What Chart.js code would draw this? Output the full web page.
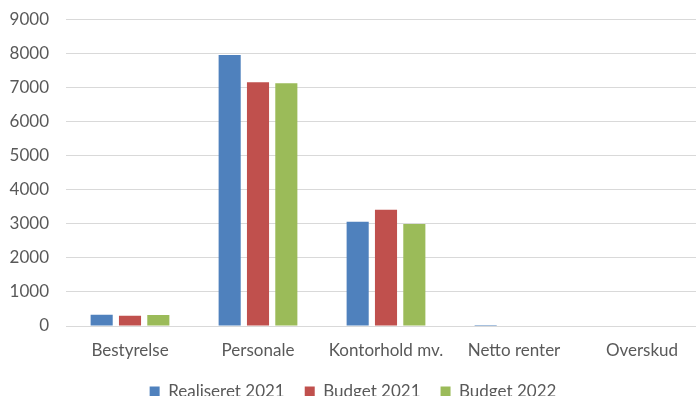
<!DOCTYPE html>
<html><head><meta charset="utf-8">
<script src="https://cdn.jsdelivr.net/npm/chart.js@4"></script>
<style>
html,body{margin:0;padding:0;overflow:hidden;background:#fff;width:696px;height:396px;}
#wrap{position:absolute;left:0;top:-8px;width:706px;height:418px;}
</style></head><body>
<div id="wrap"><canvas id="c" width="706" height="418"></canvas></div>
<script>
const categories = ["Bestyrelse", "Personale", "Kontorhold mv.", "Netto renter", "Overskud"];
const realiseret2021 = [332, 7950, 3060, 30, 0];
const budget2021 = [303, 7147, 3412, 0, 0];
const budget2022 = [323, 7118, 2990, 0, 0];
const yTicks = [0, 1000, 2000, 3000, 4000, 5000, 6000, 7000, 8000, 9000];

const FONT = "Lato, 'Open Sans', sans-serif";
new Chart(document.getElementById('c'), {
  type: 'bar',
  data: {
    labels: categories,
    datasets: [
      {label: 'Realiseret 2021', data: realiseret2021, backgroundColor: '#4f81bd'},
      {label: 'Budget 2021', data: budget2021, backgroundColor: '#c0504d'},
      {label: 'Budget 2022', data: budget2022, backgroundColor: '#9bbb59'}
    ]
  },
  options: {
    responsive: false,
    animation: false,
    devicePixelRatio: 1,
    layout: {padding: {top: 10, left: 0, right: 0, bottom: 0}},
    datasets: {bar: {categoryPercentage: 0.664, barPercentage: 0.78}},
    plugins: {
      legend: {
        position: 'bottom',
        labels: {
          boxWidth: 10, boxHeight: 10, padding: 20,
          color: '#595959',
          font: {family: FONT, size: 17}
        }
      },
      tooltip: {enabled: false}
    },
    scales: {
      x: {
        grid: {display: false, drawTicks: false},
        border: {display: false},
        ticks: {color: '#595959', font: {family: FONT, size: 17}, padding: 14},
        afterFit: s => { s.height = 37; }
      },
      y: {
        min: 0, max: 9000,
        afterBuildTicks: s => { s.ticks = yTicks.map(v => ({value: v})); },
        grid: {color: '#d9d9d9', lineWidth: 1, drawTicks: false},
        border: {display: false},
        ticks: {color: '#595959', font: {family: FONT, size: 17}, padding: 17, callback: v => String(v)},
        afterFit: s => { s.width = 66; }
      }
    }
  }
});
</script></body></html>
